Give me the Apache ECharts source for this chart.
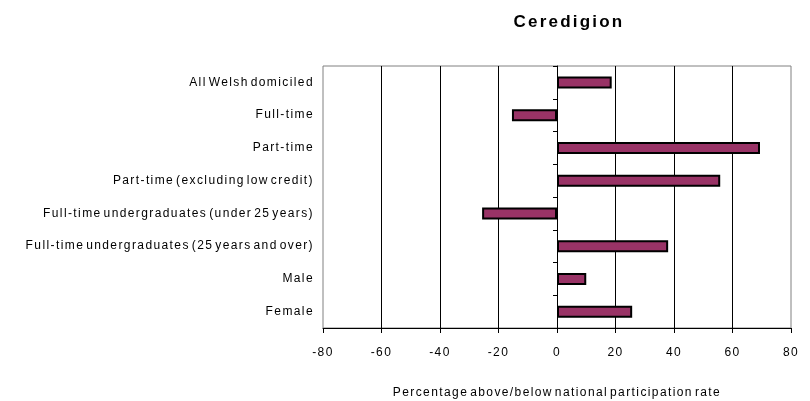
<!DOCTYPE html>
<html>
<head>
<meta charset="utf-8">
<script src="https://cdn.jsdelivr.net/npm/echarts@6/dist/echarts.min.js"></script>
<style>html,body{margin:0;padding:0;background:#fff}#c{width:810px;height:401px}</style>
</head>
<body>
<div id="c"></div>
<script>
var categories = [
  "All Welsh domiciled",
  "Full-time",
  "Part-time",
  "Part-time (excluding low credit)",
  "Full-time undergraduates (under 25 years)",
  "Full-time undergraduates (25 years and over)",
  "Male",
  "Female"
];
var values = [18.7, -15.4, 69.4, 55.8, -25.6, 38.0, 10.0, 25.7];
var xTicks = { min: -80, max: 80, interval: 20 };
var titleText = "Ceredigion";
var xName = "Percentage above/below national participation rate";

// Emulate the wide glyph spacing of the reference rendering
(function () {
  var proto = CanvasRenderingContext2D.prototype;
  function apply(ctx) {
    var bold = /bold|700/.test(ctx.font);
    try {
      ctx.letterSpacing = bold ? '2.2px' : '1.4px';
      ctx.wordSpacing = bold ? '0px' : '-2.8px';
    } catch (e) {}
  }
  var f = proto.fillText, s = proto.strokeText, m = proto.measureText;
  proto.fillText = function () { apply(this); return f.apply(this, arguments); };
  proto.strokeText = function () { apply(this); return s.apply(this, arguments); };
  proto.measureText = function () { apply(this); return m.apply(this, arguments); };
})();

var chart = echarts.init(document.getElementById('c'), null, {renderer: 'canvas'});
var font = 'Liberation Sans, Arial, sans-serif';
chart.setOption({
  animation: false,
  backgroundColor: '#fff',
  title: {
    text: titleText, left: 564, top: 8, textAlign: 'center',
    textStyle: {fontFamily: font, fontSize: 17, fontWeight: 'bold', color: '#000'}
  },
  grid: {
    left: 323, right: 19, top: 66, bottom: 73, show: true,
    outerBoundsMode: 'none', containLabel: false,
    borderColor: '#808080', borderWidth: 1, backgroundColor: 'transparent'
  },
  xAxis: {
    type: 'value', min: xTicks.min, max: xTicks.max, interval: xTicks.interval,
    name: xName, nameLocation: 'middle', nameGap: 58,
    nameTextStyle: {fontFamily: font, fontSize: 12, color: '#000'},
    axisLine: {show: true, lineStyle: {color: '#000', width: 1}},
    axisTick: {show: true, length: 5, lineStyle: {color: '#000'}},
    axisLabel: {fontFamily: font, fontSize: 12, color: '#000', margin: 18},
    splitLine: {show: true, showMinLine: false, showMaxLine: false, lineStyle: {color: '#000', width: 1}}
  },
  yAxis: [{
    type: 'category', data: categories, inverse: true, position: 'left',
    axisLine: {show: false, onZero: false}, axisTick: {show: false},
    axisLabel: {fontFamily: font, fontSize: 12, color: '#000', margin: 9}
  }, {
    type: 'category', data: categories, inverse: true, position: 'left',
    axisLine: {show: true, onZero: true, lineStyle: {color: '#000', width: 1}},
    axisTick: {show: true, length: 4, inside: false, lineStyle: {color: '#000'}},
    axisLabel: {show: false}
  }],
  series: [{
    type: 'bar', data: values, yAxisIndex: 0, barWidth: 12,
    itemStyle: {color: '#993366', borderColor: '#000', borderWidth: 2}
  }]
});
</script>
</body>
</html>
